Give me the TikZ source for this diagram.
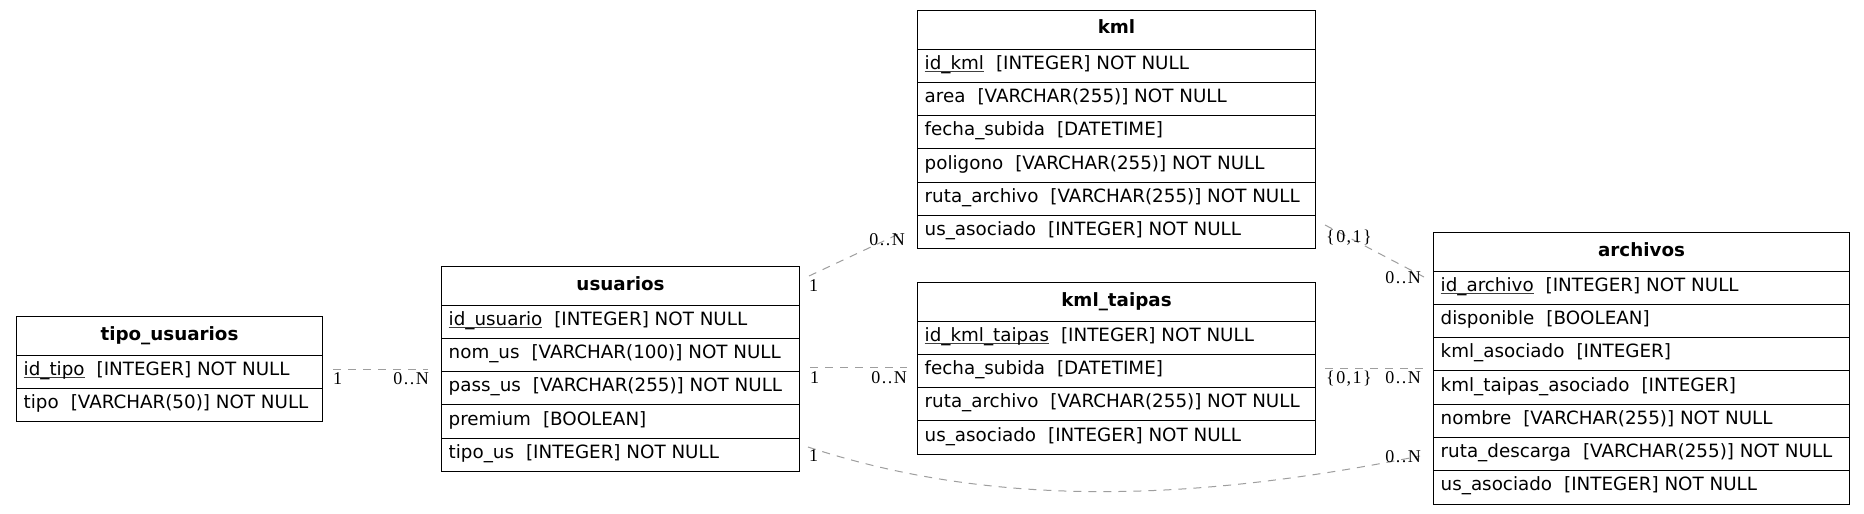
\documentclass[tikz,border=0pt]{standalone}
\usepackage{fontspec}
\setmainfont{DejaVu Sans}
\newfontfamily\lblfont{Liberation Serif}[LetterSpace=8]
\definecolor{edgegray}{gray}{0.62}
\newcommand\keyf[1]{\setbox0\hbox{#1}\rlap{\color{black!75}\rule[-3.0pt]{\wd0}{1pt}}\box0}
\newcommand\fsep{\hspace{12pt}}
\newcommand\ertab[6]{%
  \node[hdr, minimum width=#4] (#1) at (#2,#3) {#5};
  \foreach \txt [count=\i] in {#6} {
    \node[rowbox, minimum width=#4] (#1-\i) at ({#2},{#3+38.5+(\i-1)*33.3}) {};
    \node[rowtxt] (#1-\i-t) at (#1-\i.west) {\txt};
  }%
}
\begin{document}
\begin{tikzpicture}[x=1pt,y=-1pt,
  hdr/.style={draw, line width=1pt, anchor=north west, minimum height=38.5pt, inner sep=0pt,
    text height=13pt, text depth=4.5pt, font=\bfseries\fontsize{18.3}{21}\selectfont},
  rowbox/.style={draw, line width=1pt, anchor=north west, minimum height=33.3pt, inner sep=0pt},
  rowtxt/.style={anchor=west, xshift=7.5pt, inner sep=0pt, text height=12pt, text depth=5pt,
    font=\fontsize{18.3}{21}\selectfont},
  edge/.style={draw=edgegray, line width=1pt, dash pattern=on 8pt off 7pt},
  lbl/.style={font=\lblfont\fontsize{18}{20}\selectfont, inner sep=0pt}]
\useasboundingbox[fill=white] (0,0) rectangle (1864,514);

\ertab{tu}{16}{316}{306}{tipo\_usuarios}{%
  {\keyf{id\_tipo}\fsep[INTEGER] NOT NULL},
  {tipo\fsep[VARCHAR(50)] NOT NULL}}

\ertab{us}{441}{266}{358}{usuarios}{%
  {\keyf{id\_usuario}\fsep[INTEGER] NOT NULL},
  {nom\_us\fsep[VARCHAR(100)] NOT NULL},
  {pass\_us\fsep[VARCHAR(255)] NOT NULL},
  {premium\fsep[BOOLEAN]},
  {tipo\_us\fsep[INTEGER] NOT NULL}}

\ertab{km}{917}{10}{398}{kml}{%
  {\keyf{id\_kml}\fsep[INTEGER] NOT NULL},
  {area\fsep[VARCHAR(255)] NOT NULL},
  {fecha\_subida\fsep[DATETIME]},
  {poligono\fsep[VARCHAR(255)] NOT NULL},
  {ruta\_archivo\fsep[VARCHAR(255)] NOT NULL},
  {us\_asociado\fsep[INTEGER] NOT NULL}}

\ertab{kt}{917}{282}{398}{kml\_taipas}{%
  {\keyf{id\_kml\_taipas}\fsep[INTEGER] NOT NULL},
  {fecha\_subida\fsep[DATETIME]},
  {ruta\_archivo\fsep[VARCHAR(255)] NOT NULL},
  {us\_asociado\fsep[INTEGER] NOT NULL}}

\ertab{ar}{1433}{232}{416}{archivos}{%
  {\keyf{id\_archivo}\fsep[INTEGER] NOT NULL},
  {disponible\fsep[BOOLEAN]},
  {kml\_asociado\fsep[INTEGER]},
  {kml\_taipas\_asociado\fsep[INTEGER]},
  {nombre\fsep[VARCHAR(255)] NOT NULL},
  {ruta\_descarga\fsep[VARCHAR(255)] NOT NULL},
  {us\_asociado\fsep[INTEGER] NOT NULL}}

% edge end points
\coordinate (e1a) at (333,369);  \coordinate (e1b) at (428,369);
\coordinate (e2a) at (809,276);  \coordinate (e2b) at (903,232);
\coordinate (e3a) at (810,367);  \coordinate (e3b) at (907,367);
\coordinate (e4a) at (808,447);  \coordinate (e4b) at (1420,456);
\coordinate (e5a) at (1325,225); \coordinate (e5b) at (1424,277);
\coordinate (e6a) at (1325,368); \coordinate (e6b) at (1424,368);

\draw[edge] (e1a) -- (e1b);
\draw[edge] (e2a) -- (e2b);
\draw[edge] (e3a) -- (e3b);
\draw[edge] (e4a) .. controls (1000,510) and (1200,500) .. (e4b);
\draw[edge] (e5a) -- (e5b);
\draw[edge] (e6a) -- (e6b);

% cardinality labels
\node[lbl, anchor=base west] (l1a) at (333,384) {1};
\node[lbl, anchor=base east] (l1b) at (429,384) {0..N};
\node[lbl, anchor=base west] (l2a) at (809,291) {1};
\node[lbl, anchor=base east] (l2b) at (905,245) {0..N};
\node[lbl, anchor=base west] (l3a) at (810,383) {1};
\node[lbl, anchor=base east] (l3b) at (907,383) {0..N};
\node[lbl, anchor=base west] (l4a) at (809,461) {1};
\node[lbl, anchor=base east] (l4b) at (1421,462) {0..N};
\node[lbl, anchor=base west] (l5a) at (1326,242) {\{0,1\}};
\node[lbl, anchor=base east] (l5b) at (1421,283) {0..N};
\node[lbl, anchor=base west] (l6a) at (1326,383) {\{0,1\}};
\node[lbl, anchor=base east] (l6b) at (1421,383) {0..N};
\end{tikzpicture}
\end{document}
